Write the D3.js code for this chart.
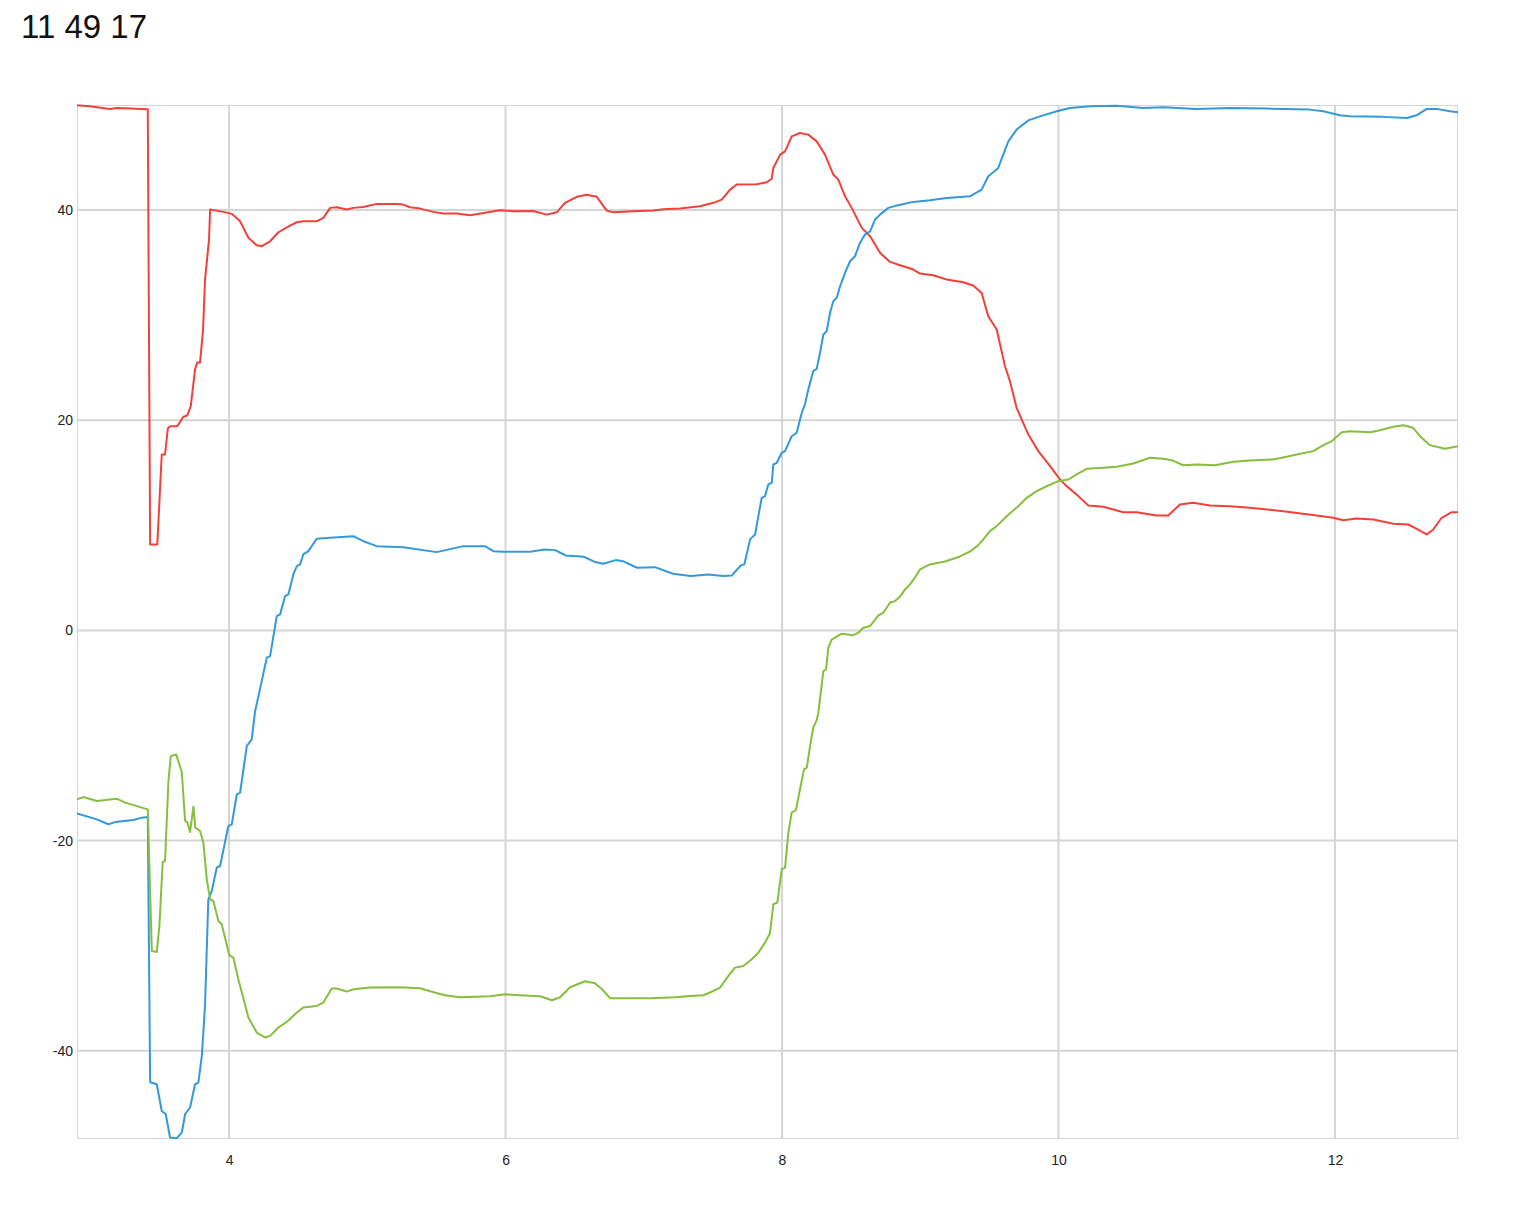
<!DOCTYPE html>
<html>
<head>
<meta charset="utf-8">
<script src="https://cdn.jsdelivr.net/npm/d3@7"></script>
<style>
  html, body { margin: 0; padding: 0; background: #ffffff; }
  svg { display: block; }
</style>
</head>
<body>
<svg id="chart" width="1536" height="1209"></svg>
<script>
const title = "11 49 17";
const xTicks = [4, 6, 8, 10, 12];
const yTicks = [-40, -20, 0, 20, 40];
const xDomain = [2.9, 12.89];
const yDomain = [-48.4, 50];

const seriesNames = ["red", "blue", "green"];
const seriesColors = ["#f2403b", "#3499da", "#86bf3e"];

const redX = [2.90,2.99,3.043,3.139,3.188,3.284,3.412,3.429,3.481,3.513,3.537,3.557,3.573,3.626,3.669,3.698,3.723,3.754,3.769,3.790,3.812,3.826,3.855,3.863,3.959,4.020,4.080,4.140,4.200,4.237,4.297,4.357,4.441,4.490,4.537,4.634,4.682,4.731,4.779,4.851,4.899,4.971,5.068,5.213,5.261,5.309,5.382,5.478,5.550,5.647,5.743,5.960,6.056,6.201,6.298,6.370,6.430,6.515,6.587,6.660,6.732,6.780,6.924,7.069,7.141,7.262,7.407,7.503,7.564,7.624,7.672,7.817,7.889,7.925,7.937,7.986,8.022,8.070,8.130,8.190,8.251,8.311,8.371,8.407,8.456,8.504,8.577,8.637,8.709,8.781,8.854,8.950,8.998,9.094,9.191,9.311,9.384,9.444,9.492,9.553,9.613,9.649,9.697,9.782,9.854,9.939,10.011,10.059,10.143,10.216,10.324,10.469,10.566,10.710,10.794,10.879,10.975,11.096,11.240,11.385,11.626,11.868,11.988,12.060,12.157,12.277,12.422,12.530,12.591,12.663,12.711,12.772,12.845,12.89];
const redY = [49.97,49.87,49.78,49.63,49.72,49.66,49.59,8.18,8.18,16.74,16.74,19.22,19.43,19.43,20.33,20.45,21.34,24.83,25.49,25.49,28.63,33.39,37.19,40.05,39.83,39.64,38.93,37.36,36.65,36.56,37.03,37.89,38.53,38.84,38.93,38.93,39.26,40.21,40.27,40.05,40.21,40.30,40.59,40.59,40.52,40.27,40.14,39.83,39.67,39.67,39.51,39.98,39.89,39.92,39.57,39.79,40.69,41.26,41.45,41.26,39.95,39.79,39.89,39.95,40.08,40.14,40.36,40.69,41.00,41.95,42.43,42.46,42.65,42.97,44.01,45.28,45.59,47.02,47.34,47.18,46.54,45.28,43.38,42.90,41.31,40.21,38.31,37.51,35.93,35.07,34.75,34.34,33.96,33.80,33.39,33.13,32.82,32.12,29.90,28.63,25.14,23.71,21.18,18.64,17.06,15.63,14.36,13.73,12.78,11.89,11.77,11.25,11.25,10.94,10.94,11.99,12.15,11.89,11.82,11.67,11.35,10.94,10.72,10.49,10.65,10.56,10.15,10.08,9.67,9.13,9.61,10.72,11.25,11.25];

const blueX = [2.90,3.043,3.127,3.175,3.308,3.369,3.412,3.429,3.477,3.513,3.542,3.573,3.622,3.658,3.682,3.718,3.754,3.778,3.803,3.826,3.850,3.875,3.911,3.935,3.995,4.020,4.056,4.080,4.128,4.164,4.188,4.239,4.273,4.297,4.345,4.369,4.405,4.429,4.465,4.490,4.514,4.537,4.574,4.634,4.731,4.899,4.971,5.068,5.261,5.502,5.695,5.852,5.912,5.984,6.177,6.281,6.358,6.436,6.565,6.642,6.707,6.797,6.849,6.952,7.081,7.211,7.340,7.469,7.572,7.637,7.701,7.727,7.769,7.805,7.829,7.853,7.877,7.901,7.926,7.937,7.962,7.998,8.022,8.070,8.106,8.143,8.166,8.190,8.226,8.251,8.275,8.299,8.323,8.347,8.371,8.396,8.420,8.456,8.492,8.528,8.564,8.600,8.637,8.673,8.709,8.769,8.830,8.950,9.070,9.191,9.360,9.444,9.492,9.528,9.564,9.637,9.697,9.782,9.866,9.987,10.083,10.228,10.421,10.614,10.758,11.0,11.240,11.505,11.819,11.915,12.036,12.108,12.349,12.518,12.591,12.663,12.735,12.831,12.89];
const blueY = [-17.41,-17.98,-18.45,-18.24,-18.05,-17.82,-17.76,-43.00,-43.19,-45.73,-46.04,-48.26,-48.32,-47.78,-46.04,-45.40,-43.19,-43.03,-40.49,-35.74,-25.59,-24.80,-22.57,-22.42,-18.62,-18.45,-15.60,-15.44,-11.01,-10.37,-7.71,-4.66,-2.60,-2.44,1.36,1.52,3.26,3.42,5.33,6.12,6.28,7.23,7.54,8.72,8.82,8.97,8.49,8.02,7.92,7.45,8.02,8.02,7.54,7.49,7.49,7.71,7.64,7.13,7.01,6.54,6.34,6.69,6.59,5.96,6.02,5.39,5.17,5.33,5.17,5.23,6.18,6.28,8.66,9.13,10.87,12.62,12.78,13.89,14.05,15.79,15.95,16.90,17.06,18.48,18.81,20.71,21.50,22.93,24.67,24.89,26.42,28.16,28.47,30.22,31.32,31.65,32.75,34.03,35.13,35.61,36.88,37.67,37.98,39.10,39.57,40.21,40.43,40.78,40.93,41.16,41.31,41.95,43.22,43.60,44.01,46.54,47.66,48.54,48.92,49.40,49.72,49.87,49.94,49.72,49.78,49.63,49.72,49.66,49.56,49.40,49.02,48.92,48.87,48.77,49.02,49.63,49.63,49.40,49.30];

const greenX = [2.90,2.946,3.043,3.188,3.248,3.412,3.441,3.477,3.496,3.520,3.537,3.561,3.578,3.617,3.658,3.682,3.698,3.718,3.742,3.756,3.790,3.814,3.839,3.863,3.886,3.923,3.947,4.002,4.031,4.067,4.140,4.200,4.260,4.297,4.357,4.417,4.490,4.537,4.634,4.682,4.743,4.779,4.851,4.899,5.020,5.237,5.382,5.454,5.562,5.671,5.888,6.000,6.105,6.250,6.336,6.394,6.467,6.575,6.647,6.698,6.756,6.864,7.045,7.226,7.335,7.431,7.479,7.552,7.612,7.660,7.720,7.781,7.829,7.877,7.913,7.937,7.966,7.998,8.022,8.046,8.070,8.101,8.130,8.159,8.179,8.203,8.226,8.251,8.263,8.299,8.319,8.335,8.360,8.396,8.432,8.516,8.552,8.588,8.637,8.697,8.733,8.781,8.817,8.854,8.890,8.926,8.962,8.998,9.070,9.179,9.287,9.360,9.418,9.456,9.504,9.553,9.625,9.709,9.770,9.842,9.926,9.998,10.071,10.131,10.204,10.324,10.421,10.541,10.662,10.758,10.819,10.903,11.0,11.132,11.265,11.385,11.554,11.650,11.723,11.843,11.904,11.976,12.048,12.108,12.253,12.325,12.422,12.494,12.566,12.615,12.687,12.796,12.89];
const greenY = [-16.08,-15.86,-16.24,-16.01,-16.39,-17.03,-30.51,-30.60,-28.13,-22.04,-21.95,-14.49,-11.96,-11.80,-13.48,-18.14,-18.24,-19.19,-16.77,-18.77,-19.09,-20.20,-23.69,-25.59,-25.75,-27.65,-27.97,-30.92,-31.13,-33.20,-36.84,-38.27,-38.74,-38.59,-37.79,-37.26,-36.37,-35.89,-35.74,-35.42,-34.08,-34.08,-34.37,-34.15,-33.99,-33.96,-34.05,-34.34,-34.72,-34.91,-34.82,-34.63,-34.72,-34.82,-35.20,-34.91,-33.96,-33.39,-33.58,-34.15,-35.00,-35.00,-35.00,-34.91,-34.79,-34.72,-34.46,-33.99,-32.88,-32.09,-31.93,-31.30,-30.66,-29.71,-28.82,-26.06,-25.90,-22.74,-22.57,-19.24,-17.34,-17.09,-15.12,-13.22,-13.06,-11.01,-9.26,-8.53,-7.83,-3.87,-3.71,-1.65,-0.86,-0.60,-0.31,-0.45,-0.22,0.26,0.41,1.43,1.68,2.63,2.79,3.23,3.90,4.38,5.04,5.80,6.28,6.56,7.04,7.51,8.09,8.66,9.45,9.92,10.87,11.82,12.62,13.25,13.79,14.20,14.36,14.84,15.38,15.48,15.57,15.89,16.43,16.33,16.20,15.72,15.79,15.72,16.05,16.17,16.27,16.52,16.74,17.06,17.53,18.01,18.86,18.96,18.86,19.05,19.38,19.53,19.28,18.48,17.63,17.28,17.53];

const seriesX = [redX, blueX, greenX];
const seriesY = [redY, blueY, greenY];

const W = 1536, H = 1209;
const margin = { top: 105, right: 78, bottom: 70, left: 77 };
const fontFamily = "'Liberation Sans', Arial, Helvetica, sans-serif";
const gridColor = "#d5d5d5";

const svg = d3.select("#chart");

const x = d3.scaleLinear().domain(xDomain).range([margin.left, W - margin.right]);
const y = d3.scaleLinear().domain(yDomain).range([H - margin.bottom, margin.top]);

// title
svg.append("text")
  .attr("x", 21)
  .attr("y", 38)
  .attr("font-family", fontFamily)
  .attr("font-size", 33)
  .attr("fill", "#111")
  .text(title);

// grid
const grid = svg.append("g");
grid.selectAll("line.vx").data(xTicks).join("line")
  .attr("x1", d => x(d)).attr("x2", d => x(d))
  .attr("y1", y.range()[1]).attr("y2", y.range()[0])
  .attr("stroke", gridColor).attr("stroke-width", 2);
grid.selectAll("line.hy").data(yTicks).join("line")
  .attr("x1", x.range()[0]).attr("x2", x.range()[1])
  .attr("y1", d => y(d)).attr("y2", d => y(d))
  .attr("stroke", gridColor).attr("stroke-width", 2);

// frame
svg.append("rect")
  .attr("x", x.range()[0] + 0.5)
  .attr("y", y.range()[1] + 0.5)
  .attr("width", x.range()[1] - x.range()[0] - 1)
  .attr("height", y.range()[0] - y.range()[1] - 1)
  .attr("fill", "none")
  .attr("stroke", gridColor)
  .attr("stroke-width", 1);

// axes (labels only)
const fmt = d => String(d);
const xAxis = d3.axisBottom(x).tickValues(xTicks).tickSize(0).tickPadding(16).tickFormat(fmt);
const gx = svg.append("g").attr("transform", `translate(0,${y.range()[0]})`).call(xAxis);
gx.select(".domain").remove();
gx.selectAll("text").attr("font-family", fontFamily).attr("font-size", 14).attr("fill", "#222");

const yAxis = d3.axisLeft(y).tickValues(yTicks).tickSize(0).tickPadding(4).tickFormat(fmt);
const gy = svg.append("g").attr("transform", `translate(${x.range()[0]},0)`).call(yAxis);
gy.select(".domain").remove();
gy.selectAll("text").attr("font-family", fontFamily).attr("font-size", 14).attr("fill", "#222");

// lines
const clipId = "plotclip";
svg.append("clipPath").attr("id", clipId).append("rect")
  .attr("x", x.range()[0]).attr("y", y.range()[1] - 2)
  .attr("width", x.range()[1] - x.range()[0]).attr("height", y.range()[0] - y.range()[1] + 4);

const line = d3.line().x(d => x(d[0])).y(d => y(d[1]));
const linesG = svg.append("g").attr("clip-path", `url(#${clipId})`);
seriesNames.forEach((name, i) => {
  const pts = seriesX[i].map((xv, j) => [xv, seriesY[i][j]]);
  linesG.append("path")
    .datum(pts)
    .attr("class", "series-" + name)
    .attr("fill", "none")
    .attr("stroke", seriesColors[i])
    .attr("stroke-width", 2)
    .attr("stroke-linejoin", "round")
    .attr("d", line);
});
</script>
</body>
</html>
